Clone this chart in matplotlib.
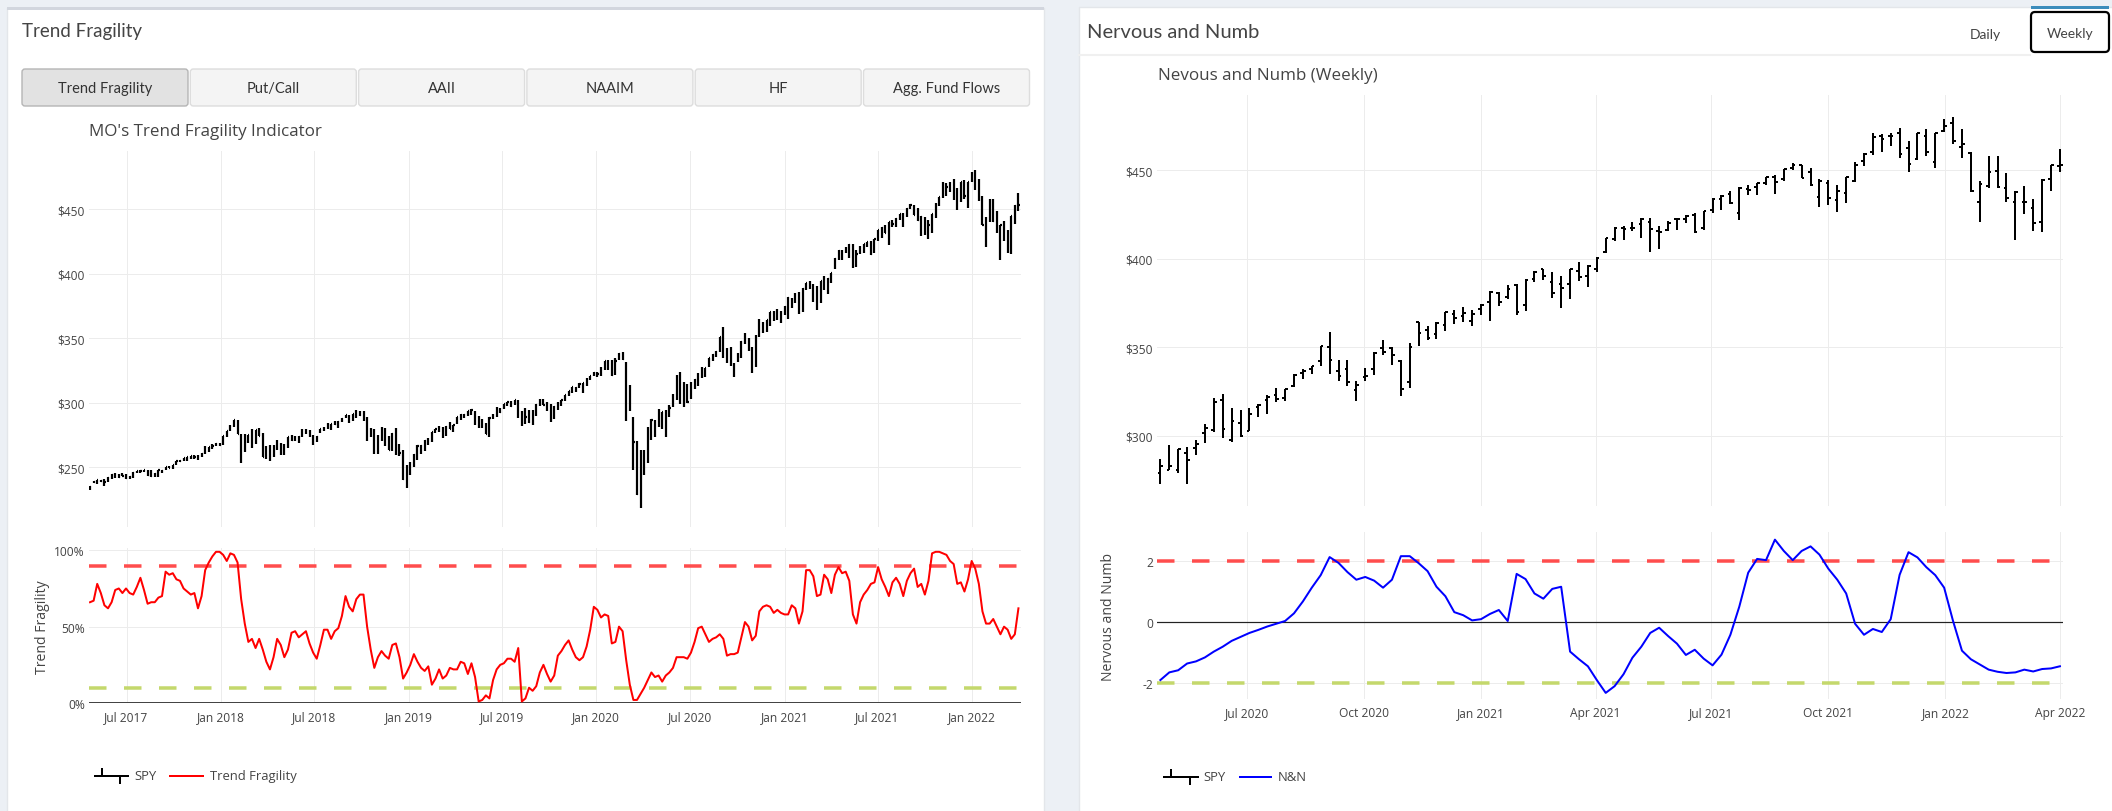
import matplotlib
matplotlib.use('Agg')
import matplotlib.pyplot as plt
import matplotlib.dates as mdates
from matplotlib.patches import FancyBboxPatch, Rectangle
from matplotlib.ticker import FuncFormatter, MultipleLocator
import pandas as pd

W, H = 2112, 812
DPI = 100
PT = 72 / DPI  # points per pixel

plt.rcParams['font.family'] = ['Open Sans', 'DejaVu Sans']
UI_FONT = ['Lato', 'DejaVu Sans']
TXT = '#444444'

# ---------------- data ----------------
# SPY weekly bars, Apr 2017 - Apr 2020 (left chart only)
tf_start = '2017-04-21'
early_high = [
    235.3, 239.5, 239.7, 240.2, 240.7, 241.9, 244.4, 245.0, 244.9, 245.0, 244.4, 243.4, 245.9,
    247.3, 248.0, 247.8, 247.9, 247.8, 245.6, 247.9, 247.8, 250.3, 250.9, 251.3, 254.5, 255.3,
    257.2, 257.9, 258.7, 259.3, 259.0, 260.5, 266.1, 265.7, 267.8, 268.6, 268.6,
    274.0, 278.2, 282.2, 286.6, 286.6, 275.9, 275.3, 275.0, 279.3, 279.0, 280.4, 276.1, 266.0,
    267.1, 267.0, 271.0, 268.6, 268.2, 273.0, 274.5, 274.2, 274.0, 279.5, 279.5, 278.6, 274.6,
    274.2, 279.8, 281.1, 284.4, 283.7, 286.0, 285.6, 287.7, 290.4, 290.2, 291.3, 293.9, 293.2,
    293.2, 289.0, 280.6, 279.3, 275.2, 281.2, 279.9, 274.1, 276.1, 280.4, 267.9, 262.9, 251.4,
    254.2, 260.0, 266.9, 266.9, 271.2, 272.4, 277.5, 279.3, 281.7, 280.9, 282.0, 285.2, 282.8,
    288.6, 290.8, 291.4, 293.5, 294.9, 293.3, 289.6, 286.9, 284.2, 288.9, 291.4, 296.3, 295.4,
    299.0, 300.7, 301.1, 302.2, 302.2, 293.6, 296.1, 293.9, 294.2, 298.8, 302.5, 302.6, 300.2,
    298.6, 297.5, 300.1, 302.0, 306.2, 309.0, 311.8, 312.3, 315.5, 315.2, 318.7, 320.9, 323.8,
    323.6, 327.5, 332.2, 332.9, 332.8, 334.2, 338.1, 339.1, 331.8, 313.8, 288.5, 270.0, 263.3,
    263.3, 281.2, 287.3]
early_low = [
    232.5, 237.6, 237.2, 238.1, 235.4, 238.6, 240.7, 241.2, 241.8, 242.7, 240.7, 240.8, 241.8,
    245.4, 245.6, 246.1, 243.1, 242.4, 241.9, 242.4, 245.3, 247.7, 248.9, 248.8, 251.3, 253.9,
    254.3, 254.6, 256.4, 256.5, 255.6, 257.8, 259.9, 262.0, 264.3, 266.4, 266.6,
    267.4, 273.6, 277.6, 280.8, 275.4, 252.9, 261.5, 268.6, 264.8, 268.2, 274.0, 258.1, 255.9,
    254.7, 257.8, 263.4, 259.0, 259.0, 264.7, 270.4, 270.1, 268.3, 273.4, 275.6, 273.1, 267.2,
    269.4, 276.0, 278.1, 279.2, 278.5, 282.2, 280.0, 284.9, 287.8, 284.5, 285.8, 287.9, 289.7,
    285.6, 270.4, 273.2, 259.9, 260.1, 270.3, 266.0, 263.0, 262.8, 259.0, 258.7, 239.9, 233.8,
    243.7, 250.3, 255.1, 260.4, 262.8, 267.0, 269.6, 276.4, 276.8, 272.4, 274.4, 279.2, 277.3,
    283.3, 286.5, 288.2, 289.3, 290.7, 282.3, 279.9, 280.6, 275.3, 273.0, 287.0, 288.5, 291.5,
    295.2, 297.1, 296.5, 297.8, 288.0, 281.7, 283.1, 284.3, 282.4, 289.3, 297.3, 297.9, 293.2,
    284.8, 287.1, 294.5, 297.2, 301.5, 305.3, 307.0, 308.3, 311.0, 307.1, 313.2, 317.4, 320.3,
    319.9, 320.4, 325.0, 325.3, 320.9, 321.6, 332.6, 332.6, 285.5, 293.1, 247.7, 228.0, 218.3,
    243.9, 253.0, 271.0]
early_close = [
    234.6, 238.1, 239.7, 239.0, 238.3, 241.7, 244.2, 243.4, 242.6, 243.1, 241.8, 242.1, 245.6,
    247.1, 246.9, 247.4, 244.1, 242.7, 244.6, 247.8, 246.6, 250.1, 249.4, 251.2, 254.4, 254.9,
    257.1, 257.7, 258.7, 258.1, 257.9, 260.4, 264.5, 265.5, 266.5, 267.5, 266.9,
    273.9, 278.1, 280.4, 286.6, 275.5, 261.5, 273.1, 274.7, 269.1, 278.9, 274.2, 258.1, 263.2,
    257.0, 265.2, 266.6, 266.6, 266.0, 272.9, 271.3, 272.2, 273.6, 278.2, 277.1, 274.7, 271.3,
    273.4, 279.6, 279.7, 281.4, 283.6, 283.2, 285.1, 287.5, 290.3, 287.6, 290.9, 292.0, 290.7,
    287.8, 275.9, 276.3, 265.3, 271.9, 277.8, 273.7, 263.3, 275.7, 263.6, 260.5, 240.7, 247.8,
    252.4, 259.0, 266.5, 266.0, 270.1, 270.5, 277.4, 279.1, 280.4, 274.5, 281.3, 279.3, 282.5,
    288.6, 290.7, 290.0, 293.4, 294.0, 288.1, 285.8, 282.8, 275.3, 287.7, 289.3, 294.0, 293.0,
    298.5, 300.7, 297.2, 302.0, 292.6, 291.6, 288.9, 284.9, 292.5, 298.1, 301.1, 298.3, 295.4,
    294.4, 296.3, 298.0, 301.6, 306.1, 308.9, 311.8, 311.0, 314.3, 314.9, 317.3, 320.7, 322.9,
    322.4, 325.7, 332.0, 328.8, 321.7, 332.2, 337.6, 333.5, 296.3, 297.5, 269.3, 228.8, 253.4,
    248.2, 278.2, 286.6]

# SPY weekly OHLC, Apr 2020 - Apr 2022 (both charts)
nn_start = '2020-04-24'
spy_open = [
    279.1, 280.7, 280.7, 290.3, 293.0, 301.9, 303.6, 320.2, 298.0, 307.2, 303.0, 316.4, 320.1,
    322.9, 321.6, 328.3, 335.4, 337.9, 342.1, 350.4, 336.7, 337.5, 325.7, 333.1, 337.5, 349.6,
    349.8, 342.1, 330.2, 364.0, 360.0, 357.3, 362.8, 369.0, 367.6, 365.0, 371.8,
    375.3, 380.6, 378.3, 385.0, 373.7, 388.8, 394.0, 387.1, 385.6, 385.9, 392.9, 390.0, 394.4,
    403.5, 410.9, 417.4, 417.4, 419.4, 420.9, 415.4, 415.9, 422.6, 422.6, 424.4, 417.1, 427.2,
    433.8, 436.2, 425.7, 439.3, 440.3, 442.6, 445.9, 445.2, 451.0, 452.7, 448.6, 434.9, 442.8,
    433.0, 437.2, 444.0, 455.2, 460.3, 469.3, 469.0, 470.9, 462.3, 456.1, 469.3, 454.5, 472.1,
    476.3, 462.7, 459.7, 432.0, 441.2, 449.4, 439.9, 431.9, 432.0, 428.8, 420.9, 445.0, 452.1]
spy_high = [
    286.8, 294.9, 292.9, 294.0, 297.9, 306.8, 321.3, 323.4, 315.6, 314.5, 315.7, 317.9, 323.0,
    327.2, 326.6, 334.9, 338.0, 339.6, 350.7, 358.8, 342.6, 343.1, 331.0, 338.3, 347.4, 354.0,
    349.9, 343.0, 352.2, 364.4, 362.3, 364.2, 369.9, 371.1, 372.5, 371.0, 374.7,
    381.5, 381.1, 385.0, 385.9, 388.5, 392.9, 394.2, 392.2, 390.1, 394.2, 398.1, 396.4, 400.7,
    411.7, 417.9, 418.3, 420.7, 422.8, 422.7, 418.2, 421.3, 422.9, 424.6, 425.5, 427.1, 434.1,
    435.8, 437.9, 440.3, 441.8, 442.9, 445.9, 447.1, 450.7, 454.1, 453.1, 451.0, 444.9, 444.1,
    441.7, 446.3, 454.7, 459.6, 470.7, 470.2, 470.9, 473.5, 466.6, 470.9, 472.9, 470.9, 478.8,
    480.0, 473.2, 460.0, 444.0, 458.1, 457.9, 448.1, 438.0, 441.1, 433.7, 444.9, 453.0, 462.1]
spy_low = [
    273.0, 281.0, 279.1, 273.0, 289.0, 296.2, 302.0, 298.6, 296.7, 299.4, 302.9, 310.7, 312.6,
    319.2, 319.6, 327.7, 332.2, 335.1, 339.4, 334.9, 331.0, 328.0, 319.8, 331.2, 334.4, 345.5,
    340.0, 322.6, 327.2, 350.5, 354.2, 354.9, 359.2, 363.3, 364.2, 362.0, 368.0,
    364.8, 373.2, 377.3, 368.3, 370.4, 387.1, 387.7, 377.9, 371.9, 377.3, 387.2, 383.9, 392.5,
    403.4, 410.2, 410.6, 415.6, 411.7, 404.0, 405.3, 415.4, 416.3, 420.3, 414.7, 415.9, 425.6,
    427.5, 431.1, 422.0, 435.8, 436.1, 441.3, 436.3, 443.6, 450.0, 445.3, 441.0, 428.9, 430.0,
    426.4, 431.5, 443.3, 452.4, 458.2, 460.3, 463.4, 456.8, 448.9, 455.6, 458.1, 451.1, 471.2,
    464.6, 456.6, 437.8, 420.8, 439.8, 439.9, 431.8, 410.6, 425.2, 415.8, 415.1, 438.1, 448.8]
spy_close = [
    283.0, 282.8, 292.4, 286.3, 295.4, 304.3, 319.3, 304.2, 308.6, 300.1, 312.2, 317.6, 321.7,
    320.9, 326.5, 334.6, 336.8, 339.5, 350.6, 342.6, 334.1, 330.7, 328.7, 333.8, 346.9, 347.3,
    345.8, 326.5, 350.2, 358.1, 355.3, 363.7, 369.9, 366.3, 369.2, 369.0, 373.9,
    381.3, 375.7, 382.9, 370.1, 387.7, 392.6, 390.0, 380.4, 383.6, 394.1, 389.5, 396.0, 400.6,
    411.5, 417.3, 416.7, 417.3, 422.1, 416.6, 414.9, 420.0, 422.6, 424.3, 414.9, 426.6, 433.7,
    435.5, 431.3, 439.9, 438.5, 442.5, 445.9, 443.4, 450.3, 453.1, 445.4, 441.4, 443.9, 434.2,
    437.9, 445.9, 453.1, 459.3, 468.5, 467.3, 468.9, 459.0, 453.4, 470.7, 459.9, 470.6, 475.0,
    466.1, 464.7, 438.0, 441.9, 448.7, 440.5, 434.2, 437.8, 432.2, 420.1, 444.5, 452.7, 452.9]

# Nervous and Numb, weekly
nn_values = [
    -1.90, -1.65, -1.58, -1.36, -1.29, -1.16, -0.97, -0.81, -0.62, -0.49,
    -0.36, -0.26, -0.15, -0.06, 0.03, 0.28, 0.67, 1.12, 1.53, 2.12,
    1.93, 1.63, 1.38, 1.47, 1.35, 1.12, 1.38, 2.15, 2.15, 1.92,
    1.66, 1.15, 0.84, 0.32, 0.22, 0.05, 0.09, 0.26, 0.39, 0.03,
    1.57, 1.40, 0.93, 0.76, 1.08, 1.15, -0.97, -1.22, -1.45, -1.90,
    -2.32, -2.10, -1.71, -1.17, -0.81, -0.36, -0.19, -0.46, -0.71, -1.08,
    -0.91, -1.20, -1.42, -1.07, -0.42, 0.50, 1.61, 2.06, 2.02, 2.69,
    2.32, 2.02, 2.32, 2.47, 2.20, 1.74, 1.38, 0.93, -0.06, -0.42,
    -0.23, -0.33, 0.09, 1.54, 2.28, 2.11, 1.79, 1.53, 1.12, 0.03,
    -0.94, -1.22, -1.39, -1.56, -1.63, -1.67, -1.65, -1.56, -1.62, -1.54,
    -1.52, -1.45]

# Trend fragility (%), weekly
trend_fragility = [
    66, 67, 78, 72, 64, 62, 66, 74, 75, 72, 75, 72, 71, 76, 82, 74, 65, 66, 66, 69,
    70, 86, 84, 85, 81, 80, 75, 73, 71, 72, 62, 70, 87, 92, 96, 99, 99, 97, 93, 98,
    97, 92, 68, 52, 40, 42, 36, 42, 35, 27, 22, 30, 42, 38, 30, 35, 46, 47, 43, 45,
    47, 39, 33, 29, 38, 48, 48, 42, 47, 49, 57, 70, 63, 60, 68, 71, 71, 50, 35, 23,
    30, 34, 31, 29, 38, 39, 30, 16, 20, 25, 32, 27, 23, 21, 24, 12, 16, 22, 16, 18,
    23, 22, 22, 27, 26, 19, 26, 17, 1, 2, 5, 3, 15, 22, 25, 26, 29, 29, 27, 36,
    1, 3, 10, 8, 11, 20, 25, 19, 14, 18, 31, 34, 38, 41, 35, 30, 28, 30, 37, 48,
    63, 61, 56, 58, 57, 39, 40, 50, 47, 28, 12, 2, 2, 6, 10, 15, 20, 17, 18, 14,
    18, 20, 23, 30, 30, 30, 29, 33, 40, 49, 50, 45, 40, 42, 43, 45, 42, 31, 32, 32,
    33, 43, 53, 50, 41, 44, 60, 63, 64, 63, 59, 61, 59, 58, 58, 64, 62, 52, 60, 87,
    87, 83, 70, 71, 84, 81, 72, 84, 89, 85, 86, 80, 58, 52, 66, 71, 74, 78, 79, 89,
    81, 76, 70, 79, 82, 78, 70, 80, 85, 88, 76, 78, 71, 80, 98, 99, 99, 98, 97, 93,
    91, 78, 79, 73, 81, 93, 88, 78, 60, 52, 52, 55, 50, 45, 50, 48, 42, 45, 62]

tf_upper, tf_lower = 90, 10
nn_upper, nn_lower = 2, -2

buttons = ['Trend Fragility', 'Put/Call', 'AAII', 'NAAIM', 'HF', 'Agg. Fund Flows']

tf_dates = pd.date_range(tf_start, periods=len(trend_fragility), freq='W-FRI')
nn_dates = pd.date_range(nn_start, periods=len(nn_values), freq='W-FRI')
left_high = early_high + spy_high
left_low = early_low + spy_low
left_close = early_close + spy_close

# ---------------- figure / page ----------------
fig = plt.figure(figsize=(W / DPI, H / DPI), dpi=DPI)
fig.patch.set_facecolor('#ecf0f5')

bg = fig.add_axes([0, 0, 1, 1], zorder=0)
bg.set_xlim(0, W)
bg.set_ylim(H, 0)
bg.axis('off')


def box(x0, y0, x1, y1):
    return [x0 / W, 1 - y1 / H, (x1 - x0) / W, (y1 - y0) / H]


# cards
bg.add_patch(Rectangle((7, 9), 1037, 810, facecolor='white', edgecolor='#e3e6ea', lw=1))
bg.add_patch(Rectangle((7, 8), 1037, 3, facecolor='#d2d6de', edgecolor='none'))
bg.add_patch(Rectangle((1079, 8), 1040, 810, facecolor='white', edgecolor='#e3e6ea', lw=1))
bg.plot([1079, 2030], [56, 56], color='#f0f0f0', lw=1.5)

# left card header + buttons
bg.text(22, 31, 'Trend Fragility', family=UI_FONT, fontsize=13.5, color=TXT, va='center')
for k, label in enumerate(buttons):
    x0 = 22 + 168.3 * k
    active = k == 0
    bg.add_patch(FancyBboxPatch((x0, 70), 166, 37,
                                boxstyle='round,pad=0,rounding_size=3',
                                facecolor='#e2e2e2' if active else '#f4f4f4',
                                edgecolor='#b5b5b5' if active else '#dddddd', lw=1))
    bg.text(x0 + 83, 89, label, family=UI_FONT, fontsize=10.5, color='#333333',
            ha='center', va='center')

# right card header + tabs
bg.text(1087, 32, 'Nervous and Numb', family=UI_FONT, fontsize=14.5, color=TXT, va='center')
bg.text(1985, 35, 'Daily', family=UI_FONT, fontsize=10, color=TXT, ha='center', va='center')
bg.add_patch(Rectangle((2031, 7), 78, 3, facecolor='#3c8dbc', edgecolor='none'))
bg.add_patch(FancyBboxPatch((2031, 13), 78, 40, boxstyle='round,pad=0,rounding_size=4',
                            facecolor='white', edgecolor='black', lw=1.6))
bg.text(2070, 34, 'Weekly', family=UI_FONT, fontsize=10, color=TXT, ha='center', va='center')

# chart titles
bg.text(89, 132, "MO's Trend Fragility Indicator", fontsize=17 * PT, color=TXT, va='center')
bg.text(1158, 76, 'Nevous and Numb (Weekly)', fontsize=17 * PT, color=TXT, va='center')

# axis titles
bg.text(42, 627, 'Trend Fragility', fontsize=14 * PT, color=TXT, rotation=90,
        ha='center', va='center')
bg.text(1108, 617, 'Nervous and Numb', fontsize=14 * PT, color=TXT, rotation=90,
        ha='center', va='center')


# legends
def ohlc_icon(x0, x1, y):
    xm1 = x0 + (x1 - x0) * 0.2
    xm2 = x0 + (x1 - x0) * 0.75
    bg.plot([x0, x1], [y, y], color='black', lw=2 * PT)
    bg.plot([xm1, xm1], [y - 7, y], color='black', lw=2 * PT)
    bg.plot([xm2, xm2], [y, y + 7], color='black', lw=2 * PT)


ohlc_icon(95, 128, 777)
bg.text(134, 777, 'SPY', fontsize=13 * PT, color=TXT, va='center')
bg.plot([170, 203], [777, 777], color='#ff0000', lw=2 * PT)
bg.text(210, 777, 'Trend Fragility', fontsize=13 * PT, color=TXT, va='center')

ohlc_icon(1164, 1198, 778)
bg.text(1203, 778, 'SPY', fontsize=13 * PT, color=TXT, va='center')
bg.plot([1240, 1271], [778, 778], color='#0000ff', lw=2 * PT)
bg.text(1278, 778, 'N&N', fontsize=13 * PT, color=TXT, va='center')


# ---------------- data axes ----------------
def data_axes(x0, y0, x1, y1):
    ax = fig.add_axes(box(x0, y0, x1, y1), zorder=2)
    ax.set_facecolor('none')
    for s in ax.spines.values():
        s.set_visible(False)
    ax.grid(True, color='#ececec', lw=1 * PT)
    ax.set_axisbelow(True)
    ax.tick_params(length=0, colors=TXT, labelsize=12 * PT, pad=3)
    return ax


def ohlc(ax, dates, op, hi, lo, cl, half, lw):
    x = mdates.date2num(dates)
    ax.vlines(x, lo, hi, color='black', lw=lw, zorder=3)
    if op is not None:
        ax.hlines(op, x - half, x, color='black', lw=lw, zorder=3)
    ax.hlines(cl, x, x + half, color='black', lw=lw, zorder=3)


dollar = FuncFormatter(lambda v, p: '$%d' % v)
pct = FuncFormatter(lambda v, p: '%d%%' % v)

left_xlim = (pd.Timestamp('2017-04-19'), pd.Timestamp('2022-04-06'))
right_xlim = (pd.Timestamp('2020-04-21 08:00'), pd.Timestamp('2022-04-03 10:00'))
half_year = mdates.MonthLocator(bymonth=[1, 7])
quarter = mdates.MonthLocator(bymonth=[1, 4, 7, 10])
fmt = mdates.DateFormatter('%b %Y')

# left upper: SPY
ax1 = data_axes(89, 152, 1021, 528)
ohlc(ax1, tf_dates, None, left_high, left_low, left_close, 2.2, 2.2 * PT)
ax1.set_xlim(*left_xlim)
ax1.set_ylim(203.5, 495)
ax1.yaxis.set_major_locator(MultipleLocator(50))
ax1.yaxis.set_major_formatter(dollar)
ax1.xaxis.set_major_locator(half_year)
ax1.tick_params(axis='x', labelbottom=False)

# left lower: trend fragility
ax2 = data_axes(89, 549, 1021, 704)
ax2.axhline(tf_upper, color='#ff4d4d', lw=3.5 * PT, ls=(0, (5, 5)), zorder=2)
ax2.axhline(tf_lower, color='#c4d86c', lw=3.5 * PT, ls=(0, (5, 5)), zorder=2)
ax2.axhline(0, color='#444444', lw=2 * PT, zorder=2)
ax2.plot(tf_dates, trend_fragility, color='#ff0000', lw=2 * PT, zorder=3)
ax2.set_xlim(*left_xlim)
ax2.set_ylim(0, 101.5)
ax2.yaxis.set_major_locator(MultipleLocator(50))
ax2.yaxis.set_major_formatter(pct)
ax2.xaxis.set_major_locator(half_year)
ax2.xaxis.set_major_formatter(fmt)
ax2.tick_params(axis='x', pad=5)

# right upper: SPY weekly
ax3 = data_axes(1157, 96, 2063, 507)
ohlc(ax3, nn_dates, spy_open, spy_high, spy_low, spy_close, 2.1, 2 * PT)
ax3.set_xlim(*right_xlim)
ax3.set_ylim(260.5, 492.3)
ax3.yaxis.set_major_locator(MultipleLocator(50))
ax3.yaxis.set_major_formatter(dollar)
ax3.xaxis.set_major_locator(quarter)
ax3.tick_params(axis='x', labelbottom=False)

# right lower: N&N
ax4 = data_axes(1157, 533, 2063, 700)
ax4.axhline(nn_upper, color='#ff4d4d', lw=3.5 * PT, ls=(0, (5, 5)), zorder=2)
ax4.axhline(nn_lower, color='#c4d86c', lw=3.5 * PT, ls=(0, (5, 5)), zorder=2)
ax4.axhline(0, color='#222222', lw=1.2 * PT, zorder=2)
ax4.plot(nn_dates, nn_values, color='#0000ff', lw=2 * PT, zorder=3)
ax4.set_xlim(*right_xlim)
ax4.set_ylim(-2.52, 2.94)
ax4.yaxis.set_major_locator(MultipleLocator(2))
ax4.yaxis.set_major_formatter(FuncFormatter(lambda v, p: '%d' % v))
ax4.xaxis.set_major_locator(quarter)
ax4.xaxis.set_major_formatter(fmt)
ax4.tick_params(axis='x', pad=5)

fig.savefig('out.png', dpi=DPI, facecolor=fig.get_facecolor())
